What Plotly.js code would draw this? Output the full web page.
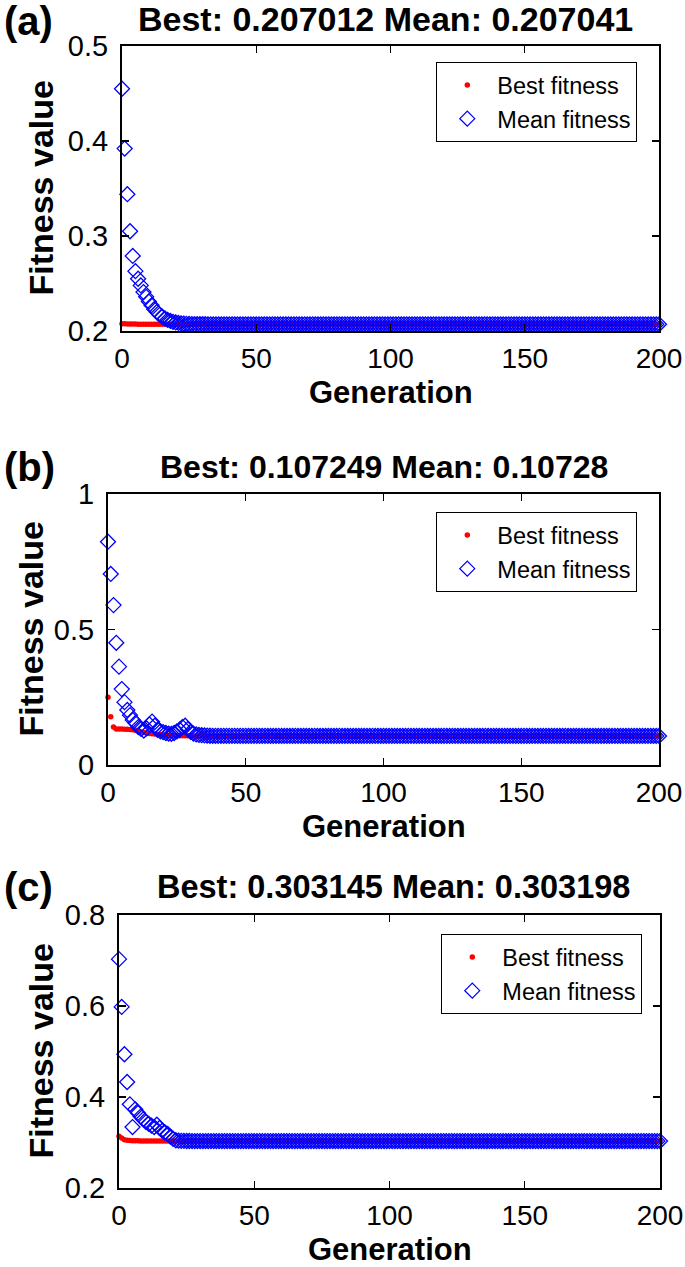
<!DOCTYPE html>
<html><head><meta charset="utf-8">
<script src="https://cdn.plot.ly/plotly-3.0.1.min.js"></script>
<style>html,body{margin:0;padding:0;background:#fff}#chart{width:685px;height:1267px}</style>
</head><body><div id="chart"></div>
<script>
// ---------- data ----------
const panelLabels = ["(a)", "(b)", "(c)"];
const panelTitles = ["Best: 0.207012 Mean: 0.207041", "Best: 0.107249 Mean: 0.10728", "Best: 0.303145 Mean: 0.303198"];
const seriesNames = ["Best fitness", "Mean fitness"];
const xTicks = [0, 50, 100, 150, 200];
const yTicksA = [0.2, 0.3, 0.4, 0.5];
const yTicksB = [0, 0.5, 1];
const yTickTextB = ["0", "0.5", "1"];
const yTicksC = [0.2, 0.4, 0.6, 0.8];

const meanA = [
0.455,0.392,0.344,0.305,0.279,0.263,0.255,0.248,0.241,0.236,
0.231,0.227,0.223,0.220,0.217,0.2150,0.2132,0.2118,0.2106,0.2097,
0.2090,0.2085,0.2081,0.2078,0.2076,0.2074,0.2073,0.2072,0.2072,0.2071,
0.2071,0.20708,0.20706,0.20707,0.20705,0.20706,0.20705,0.20705,0.20706,0.20705,
0.20705,0.20704,0.20705,0.20705,0.20704,0.20705,0.20704,0.20704,0.20705,0.20704,
0.20704,0.20705,0.20704,0.20704,0.20704,0.20705,0.20704,0.20704,0.20704,0.20704,
0.20705,0.20704,0.20704,0.20704,0.20704,0.20704,0.20705,0.20704,0.20704,0.20704,
0.20704,0.20704,0.20704,0.20705,0.20704,0.20704,0.20704,0.20704,0.20704,0.20704,
0.20704,0.20705,0.20704,0.20704,0.20704,0.20704,0.20704,0.20704,0.20704,0.20704,
0.20704,0.20704,0.20704,0.20705,0.20704,0.20704,0.20704,0.20704,0.20704,0.20704,
0.20704,0.20704,0.20704,0.20704,0.20704,0.20704,0.20705,0.20704,0.20704,0.20704,
0.20704,0.20704,0.20704,0.20704,0.20704,0.20704,0.20704,0.20704,0.20704,0.20704,
0.20704,0.20704,0.20704,0.20705,0.20704,0.20704,0.20704,0.20704,0.20704,0.20704,
0.20704,0.20704,0.20704,0.20704,0.20704,0.20704,0.20704,0.20704,0.20704,0.20704,
0.20704,0.20704,0.20704,0.20704,0.20704,0.20705,0.20704,0.20704,0.20704,0.20704,
0.20704,0.20704,0.20704,0.20704,0.20704,0.20704,0.20704,0.20704,0.20704,0.20704,
0.20704,0.20704,0.20704,0.20704,0.20704,0.20704,0.20704,0.20704,0.20705,0.20704,
0.20704,0.20704,0.20704,0.20704,0.20704,0.20704,0.20704,0.20704,0.20704,0.20704,
0.20704,0.20704,0.20704,0.20704,0.20704,0.20704,0.20704,0.20704,0.20704,0.20704,
0.20704,0.20704,0.20704,0.20704,0.20704,0.20704,0.20704,0.20704,0.20704,0.20704,
0.207041];
const bestA = [
0.2076,0.2075,0.2074,0.2074,0.2073,0.2073,0.2072,0.2072,0.2072,0.2071,
0.2071,0.2071,0.2071,0.20708,0.20708,0.20707,0.20707,0.20706,0.20706,0.20705,
0.20705,0.20705,0.20704,0.20704,0.20704,0.20703,0.20703,0.20703,0.20703,0.20702,
0.20702,0.20702,0.20702,0.20702,0.20702,0.20702,0.20702,0.20702,0.20701,0.20701,
0.20701,0.20701,0.20701,0.20701,0.20701,0.20701,0.20701,0.20701,0.20701,0.20701,
0.20701,0.20701,0.20701,0.20701,0.20701,0.20701,0.20701,0.20701,0.20701,0.20701,
0.20701,0.20701,0.20701,0.20701,0.20701,0.20701,0.20701,0.20701,0.20701,0.20701,
0.20701,0.20701,0.20701,0.20701,0.20701,0.20701,0.20701,0.20701,0.20701,0.20701,
0.20701,0.20701,0.20701,0.20701,0.20701,0.20701,0.20701,0.20701,0.20701,0.20701,
0.20701,0.20701,0.20701,0.20701,0.20701,0.20701,0.20701,0.20701,0.20701,0.20701,
0.20701,0.20701,0.20701,0.20701,0.20701,0.20701,0.20701,0.20701,0.20701,0.20701,
0.20701,0.20701,0.20701,0.20701,0.20701,0.20701,0.20701,0.20701,0.20701,0.20701,
0.20701,0.20701,0.20701,0.20701,0.20701,0.20701,0.20701,0.20701,0.20701,0.20701,
0.20701,0.20701,0.20701,0.20701,0.20701,0.20701,0.20701,0.20701,0.20701,0.20701,
0.20701,0.20701,0.20701,0.20701,0.20701,0.20701,0.20701,0.20701,0.20701,0.20701,
0.20701,0.20701,0.20701,0.20701,0.20701,0.20701,0.20701,0.20701,0.20701,0.20701,
0.20701,0.20701,0.20701,0.20701,0.20701,0.20701,0.20701,0.20701,0.20701,0.20701,
0.20701,0.20701,0.20701,0.20701,0.20701,0.20701,0.20701,0.20701,0.20701,0.20701,
0.20701,0.20701,0.20701,0.20701,0.20701,0.20701,0.20701,0.20701,0.20701,0.20701,
0.20701,0.20701,0.20701,0.20701,0.20701,0.20701,0.20701,0.20701,0.20701,0.20701,
0.207012];

const meanB = [
0.824,0.705,0.590,0.451,0.363,0.280,0.232,0.203,0.184,0.166,
0.155,0.140,0.133,0.127,0.135,0.150,0.160,0.145,0.130,0.124,
0.121,0.118,0.116,0.115,0.118,0.124,0.130,0.140,0.145,0.132,
0.122,0.116,0.113,0.111,0.110,0.109,0.1085,0.108,0.1078,0.1076,
0.1075,0.1076,0.1074,0.1075,0.1074,0.1074,0.1075,0.1074,0.1074,0.1074,
0.1074,0.1073,0.1074,0.1073,0.1074,0.1073,0.1073,0.1074,0.1073,0.1073,
0.1073,0.1073,0.1074,0.1073,0.1073,0.1073,0.1073,0.1073,0.1074,0.1073,
0.1073,0.1073,0.1073,0.1073,0.1073,0.1074,0.1073,0.1073,0.1073,0.1073,
0.1073,0.1073,0.1073,0.1073,0.1074,0.1073,0.1073,0.1073,0.1073,0.1073,
0.1073,0.1073,0.1073,0.1073,0.1073,0.1073,0.1074,0.1073,0.1073,0.1073,
0.1073,0.1073,0.1073,0.1073,0.1073,0.1073,0.1073,0.1073,0.1073,0.1074,
0.1073,0.1073,0.1073,0.1073,0.1073,0.1073,0.1073,0.1073,0.1073,0.1073,
0.1073,0.1073,0.1074,0.1073,0.1073,0.1073,0.1073,0.1073,0.1073,0.1073,
0.1073,0.1073,0.1073,0.1073,0.1073,0.1073,0.1073,0.1074,0.1073,0.1073,
0.1073,0.1073,0.1073,0.1073,0.1073,0.1073,0.1073,0.1073,0.1073,0.1073,
0.1073,0.1074,0.1073,0.1073,0.1073,0.1073,0.1073,0.1073,0.1073,0.1073,
0.1073,0.1073,0.1073,0.1073,0.1073,0.1073,0.1074,0.1073,0.1073,0.1073,
0.1073,0.1073,0.1073,0.1073,0.1073,0.1073,0.1073,0.1073,0.1073,0.1073,
0.1073,0.1073,0.1073,0.1073,0.1073,0.1073,0.1073,0.1073,0.1073,0.1073,
0.1073,0.1073,0.1073,0.1073,0.1073,0.1073,0.1073,0.1073,0.1073,0.1073,
0.10728];
const bestB = [
0.250,0.178,0.140,0.133,0.133,0.133,0.132,0.132,0.131,0.130,
0.128,0.125,0.122,0.120,0.118,0.116,0.115,0.114,0.113,0.112,
0.111,0.110,0.1095,0.109,0.1088,0.1085,0.1082,0.108,0.1078,0.1076,
0.1075,0.1074,0.1074,0.1073,0.1073,0.10728,0.10727,0.10726,0.10726,0.10725,
0.10725,0.10725,0.10725,0.10725,0.10725,0.10725,0.10725,0.10725,0.10725,0.10725,
0.10725,0.10725,0.10725,0.10725,0.10725,0.10725,0.10725,0.10725,0.10725,0.10725,
0.10725,0.10725,0.10725,0.10725,0.10725,0.10725,0.10725,0.10725,0.10725,0.10725,
0.10725,0.10725,0.10725,0.10725,0.10725,0.10725,0.10725,0.10725,0.10725,0.10725,
0.10725,0.10725,0.10725,0.10725,0.10725,0.10725,0.10725,0.10725,0.10725,0.10725,
0.10725,0.10725,0.10725,0.10725,0.10725,0.10725,0.10725,0.10725,0.10725,0.10725,
0.10725,0.10725,0.10725,0.10725,0.10725,0.10725,0.10725,0.10725,0.10725,0.10725,
0.10725,0.10725,0.10725,0.10725,0.10725,0.10725,0.10725,0.10725,0.10725,0.10725,
0.10725,0.10725,0.10725,0.10725,0.10725,0.10725,0.10725,0.10725,0.10725,0.10725,
0.10725,0.10725,0.10725,0.10725,0.10725,0.10725,0.10725,0.10725,0.10725,0.10725,
0.10725,0.10725,0.10725,0.10725,0.10725,0.10725,0.10725,0.10725,0.10725,0.10725,
0.10725,0.10725,0.10725,0.10725,0.10725,0.10725,0.10725,0.10725,0.10725,0.10725,
0.10725,0.10725,0.10725,0.10725,0.10725,0.10725,0.10725,0.10725,0.10725,0.10725,
0.10725,0.10725,0.10725,0.10725,0.10725,0.10725,0.10725,0.10725,0.10725,0.10725,
0.10725,0.10725,0.10725,0.10725,0.10725,0.10725,0.10725,0.10725,0.10725,0.10725,
0.10725,0.10725,0.10725,0.10725,0.10725,0.10725,0.10725,0.10725,0.10725,0.10725,
0.107249];

const meanC = [
0.703,0.598,0.494,0.433,0.384,0.334,0.373,0.365,0.357,0.351,
0.345,0.341,0.337,0.334,0.339,0.332,0.326,0.322,0.319,0.313,
0.308,0.305,0.304,0.3036,0.3034,0.3033,0.3033,0.3032,0.3032,0.3032,
0.3032,0.3032,0.3032,0.3032,0.3032,0.3032,0.3032,0.3032,0.3032,0.3032,
0.3032,0.3032,0.3032,0.3032,0.3032,0.3032,0.3032,0.3032,0.3032,0.3032,
0.3032,0.3032,0.3032,0.3032,0.3032,0.3032,0.3032,0.3032,0.3032,0.3032,
0.3032,0.3032,0.3032,0.3032,0.3032,0.3032,0.3032,0.3032,0.3032,0.3032,
0.3032,0.3032,0.3032,0.3032,0.3032,0.3032,0.3032,0.3032,0.3032,0.3032,
0.3032,0.3032,0.3032,0.3032,0.3032,0.3032,0.3032,0.3032,0.3032,0.3032,
0.3032,0.3032,0.3032,0.3032,0.3032,0.3032,0.3032,0.3032,0.3032,0.3032,
0.3032,0.3032,0.3032,0.3032,0.3032,0.3032,0.3032,0.3032,0.3032,0.3032,
0.3032,0.3032,0.3032,0.3032,0.3032,0.3032,0.3032,0.3032,0.3032,0.3032,
0.3032,0.3032,0.3032,0.3032,0.3032,0.3032,0.3032,0.3032,0.3032,0.3032,
0.3032,0.3032,0.3032,0.3032,0.3032,0.3032,0.3032,0.3032,0.3032,0.3032,
0.3032,0.3032,0.3032,0.3032,0.3032,0.3032,0.3032,0.3032,0.3032,0.3032,
0.3032,0.3032,0.3032,0.3032,0.3032,0.3032,0.3032,0.3032,0.3032,0.3032,
0.3032,0.3032,0.3032,0.3032,0.3032,0.3032,0.3032,0.3032,0.3032,0.3032,
0.3032,0.3032,0.3032,0.3032,0.3032,0.3032,0.3032,0.3032,0.3032,0.3032,
0.3032,0.3032,0.3032,0.3032,0.3032,0.3032,0.3032,0.3032,0.3032,0.3032,
0.3032,0.3032,0.3032,0.3032,0.3032,0.3032,0.3032,0.3032,0.3032,0.3032,
0.303198];
const bestC = [
0.314,0.310,0.306,0.305,0.3045,0.304,0.3038,0.3036,0.3035,0.3034,
0.3033,0.3033,0.3032,0.3032,0.3032,0.30318,0.30318,0.30317,0.30317,0.30316,
0.30316,0.30316,0.30315,0.30315,0.30315,0.30315,0.30315,0.30315,0.30315,0.30315,
0.30315,0.30315,0.30315,0.30315,0.30315,0.30315,0.30315,0.30315,0.30315,0.30315,
0.30315,0.30315,0.30315,0.30315,0.30315,0.30315,0.30315,0.30315,0.30315,0.30315,
0.30315,0.30315,0.30315,0.30315,0.30315,0.30315,0.30315,0.30315,0.30315,0.30315,
0.30315,0.30315,0.30315,0.30315,0.30315,0.30315,0.30315,0.30315,0.30315,0.30315,
0.30315,0.30315,0.30315,0.30315,0.30315,0.30315,0.30315,0.30315,0.30315,0.30315,
0.30315,0.30315,0.30315,0.30315,0.30315,0.30315,0.30315,0.30315,0.30315,0.30315,
0.30315,0.30315,0.30315,0.30315,0.30315,0.30315,0.30315,0.30315,0.30315,0.30315,
0.30315,0.30315,0.30315,0.30315,0.30315,0.30315,0.30315,0.30315,0.30315,0.30315,
0.30315,0.30315,0.30315,0.30315,0.30315,0.30315,0.30315,0.30315,0.30315,0.30315,
0.30315,0.30315,0.30315,0.30315,0.30315,0.30315,0.30315,0.30315,0.30315,0.30315,
0.30315,0.30315,0.30315,0.30315,0.30315,0.30315,0.30315,0.30315,0.30315,0.30315,
0.30315,0.30315,0.30315,0.30315,0.30315,0.30315,0.30315,0.30315,0.30315,0.30315,
0.30315,0.30315,0.30315,0.30315,0.30315,0.30315,0.30315,0.30315,0.30315,0.30315,
0.30315,0.30315,0.30315,0.30315,0.30315,0.30315,0.30315,0.30315,0.30315,0.30315,
0.30315,0.30315,0.30315,0.30315,0.30315,0.30315,0.30315,0.30315,0.30315,0.30315,
0.30315,0.30315,0.30315,0.30315,0.30315,0.30315,0.30315,0.30315,0.30315,0.30315,
0.30315,0.30315,0.30315,0.30315,0.30315,0.30315,0.30315,0.30315,0.30315,0.30315,
0.303145];

// ---------- layout helpers ----------
const W = 685, H = 1267;
const FONT = "Liberation Sans, Arial, Helvetica, sans-serif";
const px = v => v / W;
const py = v => 1 - v / H;

// plot-area boxes in pixels: [left, right, top, bottom]
const boxes = [[122, 659, 46, 331], [108, 659, 494, 765], [119, 660, 915, 1188]];
const yRanges = [[0.2, 0.5], [0, 1], [0.2, 0.8]];
const yTickVals = [yTicksA, yTicksB, yTicksC];
const yTickTexts = [yTicksA.map(String), yTickTextB, yTicksC.map(String)];
const legendTops = [62, 512, 934];
const legendRights = [637, 637, 642];
const yTitleX = [40, 30, 40];
const titleCenterX = [385, 384, 393];
const titleY = [19, 467, 887];
const titleSize = [34, 32, 32.5];
const labelY = [21, 467, 887];

const means = [meanA, meanB, meanC];
const bests = [bestA, bestB, bestC];

const traces = [];
const layout = {
  width: W, height: H,
  margin: {l: 0, r: 0, t: 0, b: 0},
  paper_bgcolor: "#fff", plot_bgcolor: "#fff",
  font: {family: FONT, color: "#000"},
  showlegend: true,
  annotations: []
};

for (let i = 0; i < 3; i++) {
  const sfx = i === 0 ? "" : String(i + 1);
  const xa = "x" + sfx, ya = "y" + sfx;
  const lg = "legend" + sfx;
  const gens = means[i].map((_, k) => k);
  traces.push({
    x: gens, y: bests[i], xaxis: xa, yaxis: ya, type: "scatter", mode: "markers",
    name: seriesNames[0], legend: lg,
    marker: {symbol: "circle", size: 5.5, color: "#ff0000", line: {width: 0}},
    cliponaxis: false
  });
  traces.push({
    x: gens, y: means[i], xaxis: xa, yaxis: ya, type: "scatter", mode: "markers",
    name: seriesNames[1], legend: lg,
    marker: {symbol: "diamond-open", size: 11.5, color: "#0000ff", line: {width: 1.3, color: "#0000ff"}},
    cliponaxis: false
  });
  const b = boxes[i];
  layout["xaxis" + sfx] = {
    domain: [px(b[0]), px(b[1])], anchor: ya, range: [0, 200],
    tickvals: xTicks, ticktext: xTicks.map(String),
    ticks: "inside", ticklen: 7, tickwidth: 1.3, tickcolor: "#000",
    showline: true, linecolor: "#000", linewidth: 2, mirror: "allticks",
    showgrid: false, zeroline: false, ticklabelstandoff: 1, ticklabeloverflow: "allow",
    tickfont: {family: FONT, size: 28, color: "#000"}
  };
  layout["yaxis" + sfx] = {
    domain: [py(b[3]), py(b[2])], anchor: xa, range: yRanges[i],
    tickvals: yTickVals[i], ticktext: yTickTexts[i],
    ticks: "inside", ticklen: 7, tickwidth: 1.3, tickcolor: "#000",
    showline: true, linecolor: "#000", linewidth: 2, mirror: "allticks",
    showgrid: false, zeroline: false, ticklabelstandoff: 6, ticklabeloverflow: "allow",
    tickfont: {family: FONT, size: 29, color: "#000"}
  };
  layout[lg] = {
    x: px(legendRights[i]), xanchor: "right", xref: "paper",
    y: py(legendTops[i]), yanchor: "top", yref: "paper",
    bgcolor: "#fff", bordercolor: "#000", borderwidth: 1.3,
    font: {family: FONT, size: 23.5, color: "#000"},
    itemwidth: 50, tracegroupgap: 0
  };
  // subplot title
  layout.annotations.push({
    text: "<b>" + panelTitles[i] + "</b>", xref: "paper", yref: "paper",
    x: px(titleCenterX[i]), y: py(titleY[i]), xanchor: "center", yanchor: "middle",
    showarrow: false, font: {family: FONT, size: titleSize[i], color: "#000"}
  });
  // panel label
  layout.annotations.push({
    text: "<b>" + panelLabels[i] + "</b>", xref: "paper", yref: "paper",
    x: px(2), y: py(labelY[i]), xanchor: "left", yanchor: "middle",
    showarrow: false, font: {family: FONT, size: 40, color: "#000"}
  });
  // x-axis title
  layout.annotations.push({
    text: "<b>Generation</b>", xref: "paper", yref: "paper",
    x: px((b[0] + b[1]) / 2), y: py(b[3] + 61), xanchor: "center", yanchor: "middle",
    showarrow: false, font: {family: FONT, size: 31, color: "#000"}
  });
  // y-axis title
  layout.annotations.push({
    text: "<b>Fitness value</b>", xref: "paper", yref: "paper", textangle: -90,
    x: px(yTitleX[i]), y: py((b[2] + b[3]) / 2), xanchor: "center", yanchor: "middle",
    showarrow: false, font: {family: FONT, size: 34, color: "#000"}
  });
}

Plotly.newPlot("chart", traces, layout, {staticPlot: true, displayModeBar: false});
</script>
</body></html>
